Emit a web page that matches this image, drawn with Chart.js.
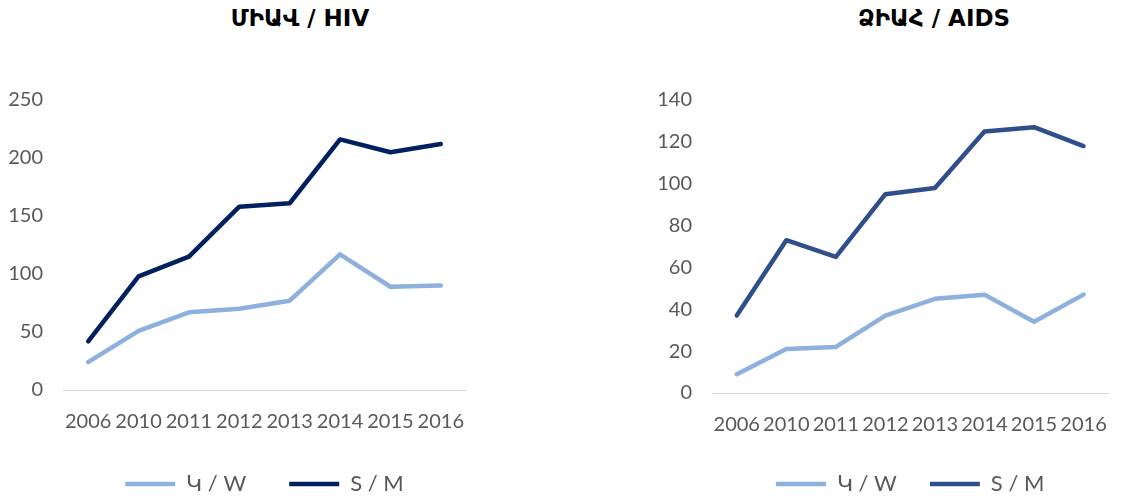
<!DOCTYPE html>
<html>
<head>
<meta charset="utf-8">
<script src="https://cdn.jsdelivr.net/npm/chart.js@4"></script>
<style>
    body { margin: 0; background: #fff; }
    .box { position: absolute; top: 0; height: 499px; }
    .title { position: absolute; top: 5px; font: bold 23px "DejaVu Sans", sans-serif; color: #000; text-align: center; white-space: nowrap; }
</style>
</head>
<body>
<div class="title" style="left:200px;width:200px">ՄԻԱՎ / HIV</div>
<div class="title" style="left:834px;width:200px">ՁԻԱՀ / AIDS</div>
<div class="box" style="left:0;width:560px"><canvas id="hivChart"></canvas></div>
<div class="box" style="left:600px;width:527px"><canvas id="aidsChart"></canvas></div>
<script>
// Data
const years = ['2006', '2010', '2011', '2012', '2013', '2014', '2015', '2016'];
const seriesNames = ['Կ / W', 'S / M'];

const hivWomen = [24, 51, 67, 70, 77, 117, 89, 90];
const hivMen = [42, 98, 115, 158, 161, 216, 205, 212];

const aidsWomen = [9, 21, 22, 37, 45, 47, 34, 47];
const aidsMen = [37, 73, 65, 95, 98, 125, 127, 118];
// Data

const lightBlue = '#8eb0dd';

function makeChart(id, women, men, darkColor, yMax, yStep, axisWidth, rightPad, xAxisHeight, legendGap) {
    return new Chart(document.getElementById(id), {
        type: 'line',
        data: {
            labels: years,
            datasets: [
                {
                    label: seriesNames[0],
                    data: women,
                    borderColor: lightBlue,
                    backgroundColor: lightBlue,
                    borderWidth: 4.5,
                    borderCapStyle: 'round',
                    borderJoinStyle: 'round',
                    pointRadius: 0,
                    tension: 0
                },
                {
                    label: seriesNames[1],
                    data: men,
                    borderColor: darkColor,
                    backgroundColor: darkColor,
                    borderWidth: 4.5,
                    borderCapStyle: 'round',
                    borderJoinStyle: 'round',
                    pointRadius: 0,
                    tension: 0
                }]
        },
        options: {
            responsive: true,
            maintainAspectRatio: false,
            animation: false,
            layout: {
                padding: { top: 100, right: rightPad, bottom: -6, left: 0 }
            },
            scales: {
                x: {
                    offset: true,
                    grid: { display: false, drawTicks: false },
                    border: { display: true, color: '#d9d9d9', width: 1 },
                    ticks: {
                        color: '#595959',
                        font: { family: 'Lato', size: 20 },
                        padding: 20,
                        maxRotation: 0,
                        autoSkip: false
                    },
                    afterFit: function (scale) {
                        scale.height = xAxisHeight;
                    }
                },
                y: {
                    min: 0,
                    max: yMax,
                    grid: { display: false, drawTicks: false },
                    border: { display: false },
                    ticks: {
                        stepSize: yStep,
                        color: '#595959',
                        font: { family: 'Lato', size: 20 },
                        padding: 20
                    },
                    afterFit: function (scale) {
                        scale.width = axisWidth;
                    }
                }
            },
            plugins: {
                legend: {
                    position: 'bottom',
                    fullSize: false,
                    labels: {
                        usePointStyle: true,
                        pointStyle: 'line',
                        pointStyleWidth: 50,
                        color: '#595959',
                        font: { family: 'Lato', size: 22 },
                        padding: legendGap
                    }
                },
                tooltip: { enabled: false }
            }
        }
    });
}

makeChart('hivChart', hivWomen, hivMen, '#002060', 250, 50, 63, 94, 40, 43);
makeChart('aidsChart', aidsWomen, aidsMen, '#2f4e8c', 140, 20, 112, 4, 47, 33);
</script>
</body>
</html>
